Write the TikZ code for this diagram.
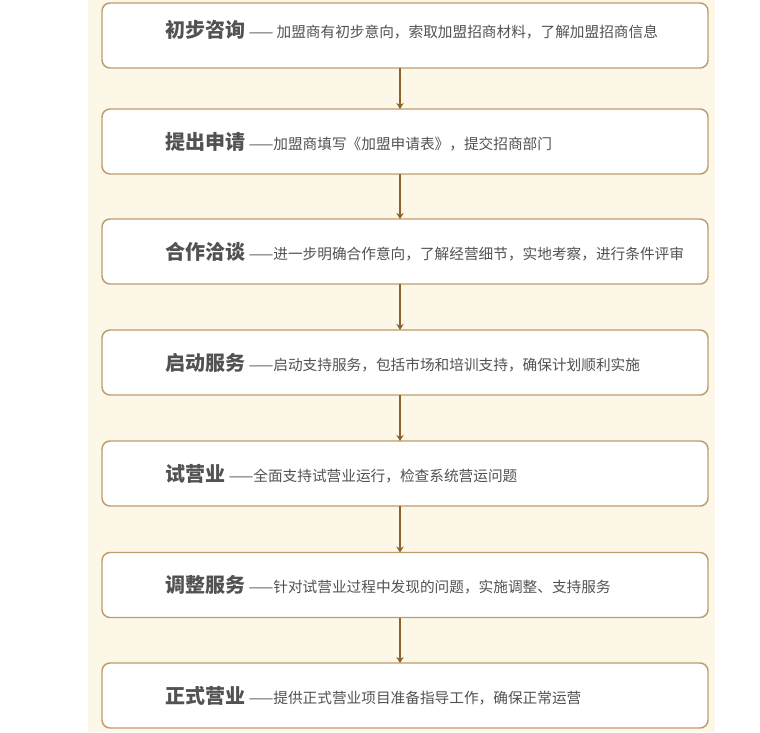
\documentclass[tikz,border=0pt]{standalone}
\usepackage{fontspec}
\setmainfont{Noto Sans CJK SC}
\usetikzlibrary{arrows.meta,positioning}
\definecolor{bgbeige}{RGB}{253,247,231}
\definecolor{boxline}{RGB}{190,156,108}
\definecolor{arrowbrown}{RGB}{140,98,45}
\definecolor{textgray}{RGB}{82,82,82}
\newcommand{\stagetitle}[1]{{\fontsize{15}{18}\selectfont\bfseries #1}}
\newcommand{\stagedesc}[1]{{\fontsize{11}{13}\selectfont #1}}
\tikzset{every picture/.style={line width=0.75pt}}
\tikzset{
  stagebox/.style={draw=boxline, line width=1.1pt, fill=white, rounded corners=6pt,
    minimum width=454.5pt, minimum height=48.75pt, inner sep=0pt, outer sep=0pt},
  stagetext/.style={anchor=west, inner sep=0pt, text=textgray, xshift=47.25pt},
  flowarrow/.style={draw=arrowbrown, line width=1.2pt, -{Stealth[length=4.5pt,width=5.5pt]}},
}

\begin{document}
\begin{tikzpicture}[x=0.75pt,y=0.75pt,yscale=-1,xscale=1]
\useasboundingbox (0,0) rectangle (760,732);
%background strip
\fill[bgbeige] (88,0) rectangle (715,732);
\coordinate (axis) at (400,0);

% Stage 1
\node[stagebox] (box1) at (405,35.5) {};
\node[stagetext, yshift=4pt] (txt1) at (box1.west) {\stagetitle{初步咨询}\stagedesc{ —— 加盟商有初步意向，索取加盟招商材料，了解加盟招商信息}};
% Stage 2
\node[stagebox] (box2) at (405,141.5) {};
\node[stagetext] (txt2) at (box2.west) {\stagetitle{提出申请}\stagedesc{ ——加盟商填写《加盟申请表》，提交招商部门}};
% Stage 3
\node[stagebox] (box3) at (405,251.5) {};
\node[stagetext] (txt3) at (box3.west) {\stagetitle{合作洽谈}\stagedesc{ ——进一步明确合作意向，了解经营细节，实地考察，进行条件评审}};
% Stage 4
\node[stagebox] (box4) at (405,362.5) {};
\node[stagetext] (txt4) at (box4.west) {\stagetitle{启动服务}\stagedesc{ ——启动支持服务，包括市场和培训支持，确保计划顺利实施}};
% Stage 5
\node[stagebox] (box5) at (405,473.5) {};
\node[stagetext] (txt5) at (box5.west) {\stagetitle{试营业}\stagedesc{ ——全面支持试营业运行，检查系统营运问题}};
% Stage 6
\node[stagebox] (box6) at (405,585) {};
\node[stagetext] (txt6) at (box6.west) {\stagetitle{调整服务}\stagedesc{ ——针对试营业过程中发现的问题，实施调整、支持服务}};
% Stage 7
\node[stagebox] (box7) at (405,695.5) {};
\node[stagetext] (txt7) at (box7.west) {\stagetitle{正式营业}\stagedesc{ ——提供正式营业项目准备指导工作，确保正常运营}};

%Arrows
\draw[flowarrow] (box1.south -| axis) -- (box2.north -| axis);
\draw[flowarrow] (box2.south -| axis) -- (box3.north -| axis);
\draw[flowarrow] (box3.south -| axis) -- (box4.north -| axis);
\draw[flowarrow] (box4.south -| axis) -- (box5.north -| axis);
\draw[flowarrow] (box5.south -| axis) -- (box6.north -| axis);
\draw[flowarrow] (box6.south -| axis) -- (box7.north -| axis);

\end{tikzpicture}
\end{document}
